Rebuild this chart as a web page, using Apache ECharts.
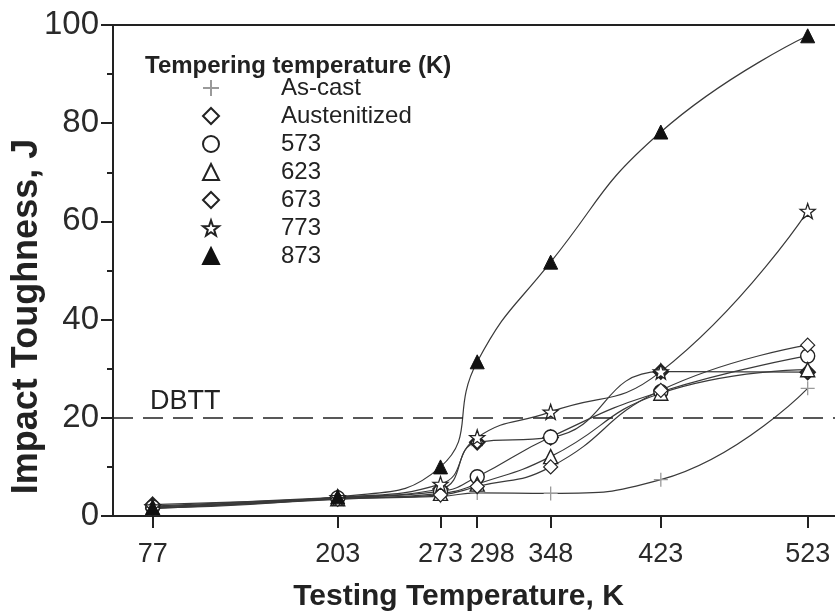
<!DOCTYPE html>
<html>
<head>
<meta charset="utf-8">
<script src="https://cdn.jsdelivr.net/npm/echarts@6/dist/echarts.min.js"></script>
<style>
  html, body { margin: 0; padding: 0; background: #fff; }
  #chart { width: 835px; height: 613px; }
</style>
</head>
<body>
<div id="chart"></div>
<script>
// Testing temperatures (K) and the tick marks placed on the x axis
const temps = [77, 203, 273, 298, 348, 423, 523];
const tickTemps = [77, 203, 273, 298, 348, 423, 523];

// Impact toughness (J) for each tempering condition
const asCast       = [2.0, 3.6, 4.0, 4.7, 4.6, 7.4, 26.0];
const austenitized = [2.3, 3.8, 5.5, 15.0, 16.0, 29.4, 29.3];
const t573         = [1.8, 3.7, 5.0, 8.0, 16.1, 25.3, 32.6];
const t623         = [1.6, 3.5, 4.6, 6.5, 12.1, 25.0, 29.8];
const t673         = [1.5, 3.4, 4.3, 6.0, 10.0, 25.6, 34.8];
const t773         = [1.9, 3.8, 6.5, 16.0, 21.2, 29.4, 62.1];
const t873         = [1.7, 3.9, 10.0, 31.4, 51.7, 78.2, 97.8];

const seriesNames = ['As-cast', 'Austenitized', '573', '623', '673', '773', '873'];
const dbttValue = 20;

const PLUS = 'path://M5,0L5,10M0,5L10,5';
const STAR = 'path://M10,0L12.35,6.76L19.51,6.91L13.8,11.24L15.88,18.09L10,14L4.12,18.09L6.2,11.24L0.49,6.91L7.65,6.76Z';

const ink = '#222';
const lineInk = '#3a3a3a';

function pairs(values) {
  return temps.map((t, i) => [t, values[i]]);
}

function curve(name, values, symbol, opts) {
  opts = opts || {};
  return {
    name: name,
    type: 'line',
    smooth: 0.5,
    data: pairs(values),
    symbol: symbol,
    symbolSize: opts.size || 13,
    showSymbol: true,
    lineStyle: { color: lineInk, width: 1.2 },
    itemStyle: {
      color: opts.fill || '#fff',
      borderColor: opts.stroke || ink,
      borderWidth: opts.border || 1.3
    },
    emphasis: { disabled: true },
    z: opts.z || 2
  };
}

const series = [
  curve(seriesNames[0], asCast, PLUS, { stroke: '#9a9a9a', border: 1.3, size: 14 }),
  curve(seriesNames[1], austenitized, 'diamond', { border: 2.3, size: 14 }),
  curve(seriesNames[2], t573, 'circle', { border: 1.4, size: 14 }),
  curve(seriesNames[3], t623, 'triangle', { border: 1.4, size: 14 }),
  curve(seriesNames[4], t673, 'diamond', { border: 1.2, size: 14 }),
  curve(seriesNames[5], t773, STAR, { border: 1.3, size: 15 }),
  curve(seriesNames[6], t873, 'triangle', { fill: '#111', stroke: '#111', border: 1, size: 14 })
];

// Ductile-to-brittle transition threshold
series[0].markLine = {
  silent: true,
  symbol: 'none',
  animation: false,
  lineStyle: { type: [20, 10], color: ink, width: 1.5 },
  label: {
    formatter: 'DBTT',
    position: 'insideStartTop',
    distance: 3,
    padding: [0, 0, 0, 34],
    fontSize: 27,
    color: ink,
    fontFamily: 'Liberation Sans'
  },
  data: [{ yAxis: dbttValue }]
};

const legendIcons = [PLUS, 'diamond', 'circle', 'triangle', 'diamond', STAR, 'triangle'];

const chart = echarts.init(document.getElementById('chart'), null, { renderer: 'canvas' });
chart.setOption({
  animation: false,
  backgroundColor: '#fff',
  textStyle: { fontFamily: 'Liberation Sans' },
  title: {
    text: 'Tempering temperature (K)',
    left: 145,
    top: 54,
    padding: 0,
    textStyle: { fontSize: 24, fontWeight: 'bold', color: ink, fontFamily: 'Liberation Sans' }
  },
  legend: {
    orient: 'vertical',
    left: 202,
    top: 76,
    padding: 0,
    itemWidth: 16,
    itemHeight: 16,
    itemGap: 4,
    selectedMode: false,
    data: seriesNames.map((n, i) => ({ name: n, icon: legendIcons[i] })),
    textStyle: {
      fontSize: 24,
      color: ink,
      padding: [0, 0, 0, 57],
      fontFamily: 'Liberation Sans'
    }
  },
  grid: {
    left: 113,
    top: 25,
    right: -5,
    bottom: 97,
    show: true,
    borderColor: ink,
    borderWidth: 2,
    outerBoundsMode: 'none'
  },
  xAxis: {
    type: 'value',
    min: 50,
    max: 545,
    name: 'Testing Temperature, K',
    nameLocation: 'middle',
    nameGap: 66,
    nameMoveOverlap: false,
    nameTextStyle: { fontSize: 30, fontWeight: 'bold', color: ink, padding: [0, 36, 0, 0] },
    axisLine: { lineStyle: { color: ink, width: 2 } },
    axisTick: { customValues: tickTemps, length: 12, lineStyle: { color: ink, width: 2 } },
    axisLabel: {
      customValues: tickTemps,
      fontSize: 27,
      color: '#2a2a2a',
      margin: 25,
      // 273 and 298 sit close together, so the 298 label is nudged right
      formatter: function (v) { return v === 298 ? '{shift|' + v + '}' : '{n|' + v + '}'; },
      rich: {
        n: { fontSize: 27, color: '#2a2a2a' },
        shift: { fontSize: 27, color: '#2a2a2a', padding: [0, 0, 0, 30] }
      }
    },
    splitLine: { show: false }
  },
  yAxis: {
    type: 'value',
    min: 0,
    max: 100,
    interval: 20,
    name: 'Impact Toughness, J',
    nameLocation: 'middle',
    nameGap: 68,
    nameMoveOverlap: false,
    nameTextStyle: { fontSize: 36, fontWeight: 'bold', color: ink, padding: [0, 92, 0, 0] },
    axisLine: { lineStyle: { color: ink, width: 2 } },
    axisTick: { length: 12, lineStyle: { color: ink, width: 2 } },
    minorTick: { show: true, splitNumber: 2, length: 6, lineStyle: { color: ink, width: 2 } },
    axisLabel: { fontSize: 33, color: '#2a2a2a', margin: 14 },
    splitLine: { show: false }
  },
  series: series
});
</script>
</body>
</html>
